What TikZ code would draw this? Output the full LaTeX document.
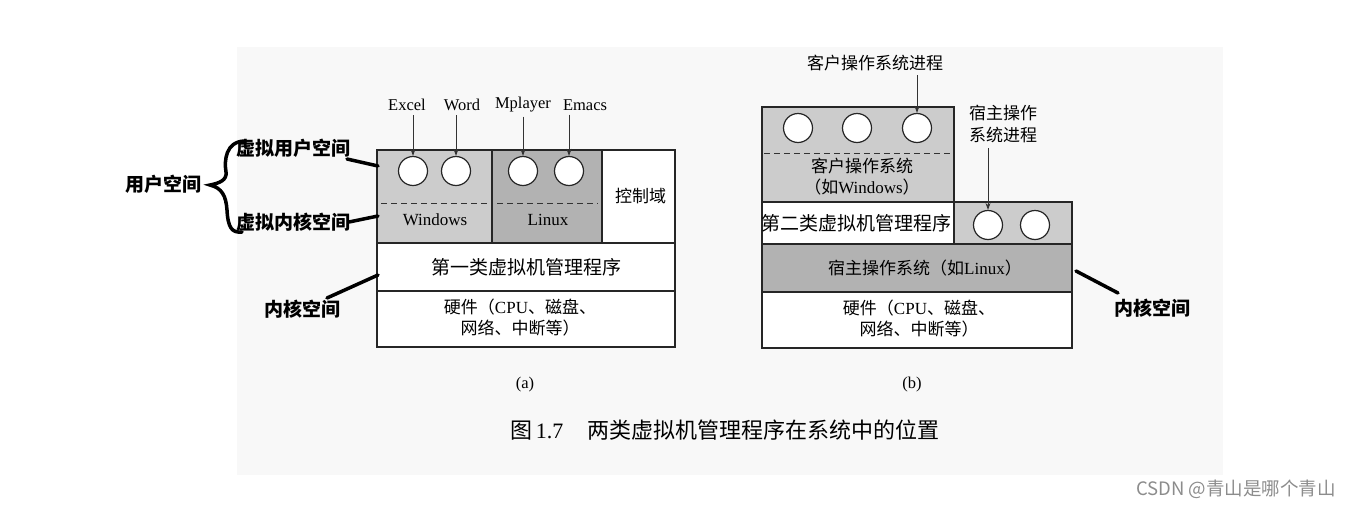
\documentclass[tikz,border=0pt]{standalone}
\usepackage{fontspec}
\setmainfont{Liberation Serif}
\newfontfamily\cjk{Noto Sans CJK SC}
\usetikzlibrary{arrows.meta}
\definecolor{scanbg}{RGB}{248,248,248}
\definecolor{gl}{RGB}{204,204,204}
\definecolor{gd}{RGB}{178,178,178}
\newcommand{\zh}[1]{{\cjk #1}}
\tikzset{
  blk/.style={draw=black!85, line width=1.3pt, anchor=north west, inner sep=0pt, outer sep=0pt},
  proc/.style={circle, draw=black!85, line width=1.2pt, fill=white, minimum size=29pt, inner sep=0pt},
  lbl/.style={font=\fontsize{16.5}{18}\selectfont, inner sep=1pt},
  txt/.style={font=\fontsize{17}{21}\selectfont, align=center, inner sep=0pt},
  bigtxt/.style={font=\fontsize{19}{22}\selectfont, align=center, inner sep=0pt},
  arr/.style={-{Stealth[length=7pt,width=5pt]}, line width=0.9pt, black!80},
  dsh/.style={dashed, dash pattern=on 6pt off 4pt, line width=1pt, black!80},
  ann/.style={font=\cjk\bfseries\fontsize{19}{22}\selectfont, inner sep=0pt},
  annline/.style={line width=3.5pt, line cap=round}
}
\begin{document}
\begin{tikzpicture}[x=1pt,y=-1pt]
\useasboundingbox (0,0) rectangle (1355,509);
\fill[scanbg] (237,47) rectangle (1223,475);

% ---------- (a) ----------
\node[blk, fill=gl, minimum width=115pt, minimum height=93pt] (win) at (377,150) {};
\node[blk, fill=gd, minimum width=110pt, minimum height=93pt] (lin) at (492,150) {};
\node[blk, fill=white, minimum width=73pt, minimum height=93pt] (ctl) at (602,150) {};
\node[blk, fill=white, minimum width=298pt, minimum height=48pt] (hv1) at (377,243) {};
\node[blk, fill=white, minimum width=298pt, minimum height=56pt] (hw1) at (377,291) {};
\node[txt] at ([xshift=2pt]ctl.center) {\zh{控制域}};
\node[bigtxt] at (hv1.center) {\zh{第一类虚拟机管理程序}};
\node[txt] at ([xshift=-6pt,yshift=1pt]hw1.center) {\zh{硬件（}CPU\zh{、磁盘、}\\\zh{网络、中断等）}};
\node[txt] (wt) at (435,220) {Windows};
\node[txt] (lt) at (548,220) {Linux};
\draw[dsh] (381,203) -- (489,203);
\draw[dsh] (497,203) -- (598,203);

\node[proc] (c1) at (413,171) {};
\node[proc] (c2) at (456,171) {};
\node[proc] (c3) at (523,171) {};
\node[proc] (c4) at (569,171) {};
\node[lbl] (l1) at (407,105) {Excel};
\node[lbl] (l2) at (462,105) {Word};
\node[lbl] (l3) at (523,105) {Mplayer};
\node[lbl] (l4) at (585,105) {Emacs};
\draw[arr] (c1 |- l1.south) ++(0,3) -- (c1.north);
\draw[arr] (c2 |- l2.south) ++(0,3) -- (c2.north);
\draw[arr] (c3 |- l3.south) ++(0,3) -- (c3.north);
\draw[arr] (c4 |- l4.south) ++(0,3) -- (c4.north);
\node[lbl] (capa) at (525,385) {(a)};

% ---------- (b) ----------
\node[blk, fill=gl, minimum width=192pt, minimum height=95pt] (guest) at (762,107) {};
\node[blk, fill=white, minimum width=192pt, minimum height=42pt] (hv2) at (762,202) {};
\node[blk, fill=gl, minimum width=118pt, minimum height=42pt] (hostp) at (954,202) {};
\node[blk, fill=gd, minimum width=310pt, minimum height=48pt] (hostos) at (762,244) {};
\node[blk, fill=white, minimum width=310pt, minimum height=56pt] (hw2) at (762,292) {};
\draw[dsh] (764,153) -- (952,153);
\node[txt] at (862,177) {\zh{客户操作系统}\\\zh{（如}Windows\zh{）}};
\node[bigtxt] at ([xshift=-2pt]hv2.center) {\zh{第二类虚拟机管理程序}};
\node[txt] at ([xshift=8pt]hostos.center) {\zh{宿主操作系统（如}Linux\zh{）}};
\node[txt] at ([xshift=2pt,yshift=1pt]hw2.center) {\zh{硬件（}CPU\zh{、磁盘、}\\\zh{网络、中断等）}};
\node[proc] (g1) at (798,128) {};
\node[proc] (g2) at (857,128) {};
\node[proc] (g3) at (917,128) {};
\node[proc] (h1) at (988,225) {};
\node[proc] (h2) at (1035,225) {};
\node[txt] (gl1) at (875,63) {\zh{客户操作系统进程}};
\node[txt, font=\fontsize{17}{22}\selectfont] (hl1) at (1003,124) {\zh{宿主操作}\\\zh{系统进程}};
\draw[arr] (g3 |- gl1.south) ++(0,4) -- (g3.north);
\draw[arr] (h1 |- hl1.south) ++(0,5) -- (h1.north);
\node[lbl] (capb) at (912,385) {(b)};

% ---------- caption ----------
\node[font=\fontsize{22}{26}\selectfont, inner sep=0pt] (cap) at (725,430) {\zh{图}\,1.7\hspace{1.1em}\zh{两类虚拟机管理程序在系统中的位置}};

% ---------- annotations ----------
\node[ann] (uspace) at (163,184) {用户空间};
\node[ann] (vus) at (293,148) {虚拟用户空间};
\node[ann] (vks) at (293,222) {虚拟内核空间};
\node[ann] (ks1) at (302,309) {内核空间};
\node[ann] (ks2) at (1152,308) {内核空间};
\draw[annline] (244,141) .. controls (226,142) and (224,160) .. (226,172) .. controls (227,180) and (220,183) .. (210,185) .. controls (222,188) and (226,196) .. (227,210) .. controls (228,228) and (232,233) .. (242,232);
\coordinate (a1s) at (347,159); \coordinate (a1e) at (378,166);
\coordinate (a2s) at (349,222); \coordinate (a2e) at (378,216);
\coordinate (a3s) at (327,298); \coordinate (a3e) at (378,275);
\coordinate (a4s) at (1076,271); \coordinate (a4e) at (1118,293);
\draw[annline] (a1s) -- (a1e);
\draw[annline] (a2s) -- (a2e);
\draw[annline] (a3s) -- (a3e);
\draw[annline] (a4s) -- (a4e);

% ---------- watermark ----------
\node[font=\cjk\fontsize{18.5}{21}\selectfont, text=black!45, inner sep=0pt] (wm) at (1236,489) {CSDN @青山是哪个青山};
\end{tikzpicture}
\end{document}
